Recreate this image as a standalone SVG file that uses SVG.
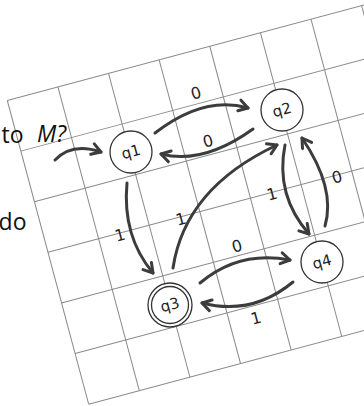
<svg xmlns="http://www.w3.org/2000/svg" width="364" height="406" viewBox="0 0 364 406">
<style>
.grid line{stroke:#8a8a8a;stroke-width:1}
.edge{fill:none;stroke:#3c3c3c;stroke-width:3;stroke-linecap:round;marker-end:url(#ah)}
.node circle{fill:#fff;stroke:#333;stroke-width:1.3}
.nl{font-family:"DejaVu Sans",sans-serif;font-size:15px;fill:#222;text-anchor:middle;dominant-baseline:central}
.el{font-family:"DejaVu Sans",sans-serif;font-size:16px;fill:#222;text-anchor:middle;dominant-baseline:central}
.side{font-family:"Open Sans","DejaVu Sans",sans-serif;font-size:23px;fill:#111}
</style>
<defs>
<marker id="ah" viewBox="-12 -8 14 16" markerWidth="14" markerHeight="16" refX="0" refY="0" orient="auto" markerUnits="userSpaceOnUse">
<path d="M-9,-5.5 L0,0 L-9,5.5" fill="none" stroke="#3c3c3c" stroke-width="3" stroke-linecap="round" stroke-linejoin="round"/>
</marker>
</defs>
<rect width="364" height="406" fill="#fff"/>
<g id="grid" class="grid" transform="translate(7.3,100.5) rotate(-15)">
<line x1="0" y1="0" x2="420" y2="0"/>
<line x1="0" y1="52.4" x2="420" y2="52.4"/>
<line x1="0" y1="104.8" x2="420" y2="104.8"/>
<line x1="0" y1="157.2" x2="420" y2="157.2"/>
<line x1="0" y1="209.6" x2="420" y2="209.6"/>
<line x1="0" y1="262" x2="420" y2="262"/>
<line x1="0" y1="314.4" x2="420" y2="314.4"/>
<line x1="0" y1="0" x2="0" y2="314.4"/>
<line x1="52.4" y1="0" x2="52.4" y2="314.4"/>
<line x1="104.8" y1="0" x2="104.8" y2="314.4"/>
<line x1="157.2" y1="0" x2="157.2" y2="314.4"/>
<line x1="209.6" y1="0" x2="209.6" y2="314.4"/>
<line x1="262" y1="0" x2="262" y2="314.4"/>
<line x1="314.4" y1="0" x2="314.4" y2="314.4"/>
<line x1="366.8" y1="0" x2="366.8" y2="314.4"/>
<line x1="419.2" y1="0" x2="419.2" y2="314.4"/>
</g>
<g id="side-text">
<text class="side" x="23.5" y="143" text-anchor="end">to</text>
<text class="side" x="37" y="142" font-style="italic" font-size="24">M?</text>
<text class="side" x="26.5" y="230" text-anchor="end">do</text>
</g>
<g id="connectors">
<path class="edge" d="M55,160 Q72,142 101,152"/>
<path class="edge" d="M155,133 Q204,95 248,108"/>
<path class="edge" d="M253,129 Q203,165 161,154"/>
<path class="edge" d="M127,183 Q122,236 153,273"/>
<path class="edge" d="M173,268 Q185,188 277,145"/>
<path class="edge" d="M285,145 Q275,195 309,234"/>
<path class="edge" d="M325,226 Q336,188 302,138"/>
<path class="edge" d="M200,283 Q239,250 290,260"/>
<path class="edge" d="M293,282 Q252,316 202,303"/>
<text class="el" transform="translate(196,93) rotate(-15)">0</text>
<text class="el" transform="translate(208,141) rotate(-15)">0</text>
<text class="el" transform="translate(120,235) rotate(-15)">1</text>
<text class="el" transform="translate(181,219) rotate(-15)">1</text>
<text class="el" transform="translate(272,194) rotate(-15)">1</text>
<text class="el" transform="translate(337,177) rotate(-15)">0</text>
<text class="el" transform="translate(237,246) rotate(-15)">0</text>
<text class="el" transform="translate(256,318) rotate(-15)">1</text>
</g>
<g id="q1" class="node"><circle cx="131" cy="152" r="21"/><text class="nl" transform="translate(131,152) rotate(-15)">q1</text></g>
<g id="q2" class="node"><circle cx="282" cy="110" r="21"/><text class="nl" transform="translate(282,110) rotate(-15)">q2</text></g>
<g id="q3" class="node"><circle cx="170" cy="305" r="22"/><circle cx="170" cy="305" r="18.5"/><text class="nl" transform="translate(170,305) rotate(-15)">q3</text></g>
<g id="q4" class="node"><circle cx="322" cy="262" r="21"/><text class="nl" transform="translate(322,262) rotate(-15)">q4</text></g>
</svg>
